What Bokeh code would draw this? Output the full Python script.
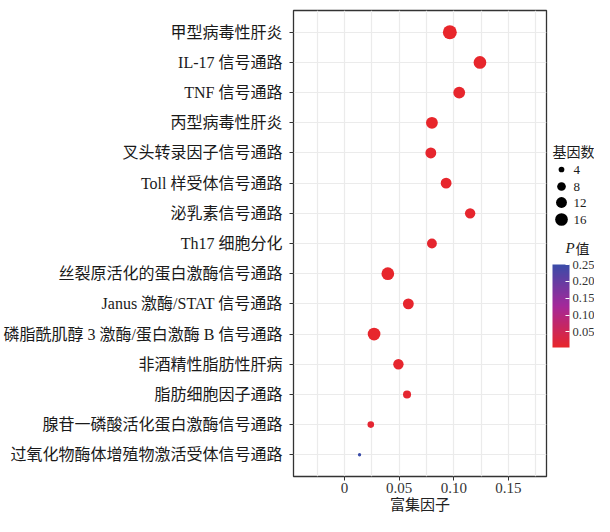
import numpy as np
from bokeh.plotting import figure
from bokeh.layouts import row
from bokeh.models import (ColumnDataSource, FactorRange, Range1d, FixedTicker,
                          LinearColorMapper, ColorBar, NumeralTickFormatter)
from bokeh.core.properties import value
from bokeh.embed import file_html
from bokeh.resources import INLINE

# ---------------- data ----------------
pathways = ["甲型病毒性肝炎", "IL-17 信号通路", "TNF 信号通路", "丙型病毒性肝炎",
            "叉头转录因子信号通路", "Toll 样受体信号通路", "泌乳素信号通路", "Th17 细胞分化",
            "丝裂原活化的蛋白激酶信号通路", "Janus 激酶/STAT 信号通路",
            "磷脂酰肌醇 3 激酶/蛋白激酶 B 信号通路", "非酒精性脂肪性肝病",
            "脂肪细胞因子通路", "腺苷一磷酸活化蛋白激酶信号通路",
            "过氧化物酶体增殖物激活受体信号通路"]
rich_factor = [0.0964, 0.124, 0.105, 0.080, 0.079, 0.093, 0.115, 0.080,
               0.0396, 0.0584, 0.027, 0.0493, 0.0572, 0.024, 0.0137]
gene_count = [19, 16, 14, 14, 12, 12, 11, 10, 16, 12, 16, 11, 7, 5, 2]
p_value = [0.004, 0.005, 0.006, 0.004, 0.007, 0.006, 0.008, 0.009,
           0.005, 0.007, 0.006, 0.008, 0.010, 0.012, 0.25]
x_ticks = [0, 0.05, 0.10, 0.15]
x_tick_labels = ["0", "0.05", "0.10", "0.15"]
size_breaks = [4, 8, 12, 16]
p_ticks = [0.05, 0.10, 0.15, 0.20, 0.25]


def marker_size(c):
    return np.sqrt(10.73 * np.asarray(c, dtype=float) - 10.4)


def make_palette(stops, n=256):
    cols = []
    stops = [tuple(int(s[i:i + 2], 16) for i in (1, 3, 5)) for s in stops]
    segs = len(stops) - 1
    for k in range(n):
        t = k / (n - 1) * segs
        i = min(int(t), segs - 1)
        f = t - i
        a, b = stops[i], stops[i + 1]
        cols.append("#%02x%02x%02x" % tuple(int(round(a[j] + (b[j] - a[j]) * f)) for j in range(3)))
    return cols


palette = make_palette(["#E8262B", "#A4289A", "#3A4CA8"])
mapper = LinearColorMapper(palette=palette, low=min(p_value), high=max(p_value))

SERIF = "'Liberation Serif', 'Noto Sans CJK SC'"
CJK = "'Noto Sans CJK SC'"

src = ColumnDataSource(dict(y=pathways, x=rich_factor, n=gene_count, p=p_value,
                            s=marker_size(gene_count)))

W_MAIN, W_LEG, H = 548, 46, 516
B_LEFT, B_RIGHT, B_TOP, B_BOT = 292, 2, 10, 40
FRAME_W = W_MAIN - B_LEFT - B_RIGHT
X_START = -0.0468
X_END = X_START + FRAME_W / 1096.0

yr = FactorRange(factors=list(reversed(pathways)), range_padding=0.22,
                 range_padding_units="absolute")
p = figure(width=W_MAIN, height=H, y_range=yr, x_range=Range1d(X_START, X_END),
           output_backend="svg", toolbar_location=None,
           min_border_left=B_LEFT, min_border_right=B_RIGHT, min_border_top=B_TOP,
           min_border_bottom=B_BOT)
p.background_fill_color = "white"
p.border_fill_color = "white"
p.outline_line_color = "#333333"
p.outline_line_width = 1.3

p.scatter("x", "y", source=src, size="s", line_color=None,
          fill_color={"field": "p", "transform": mapper})

p.xaxis.ticker = FixedTicker(ticks=x_ticks, minor_ticks=[-0.025, 0.025, 0.075, 0.125, 0.175])
p.xaxis.major_label_overrides = {t: l for t, l in zip(x_ticks, x_tick_labels)}
p.xaxis.axis_label = "富集因子"
p.xaxis.axis_label_text_font = SERIF
p.xaxis.axis_label_text_font_size = "15px"
p.xaxis.axis_label_text_font_style = "normal"
p.xaxis.axis_label_text_color = "#222222"
p.xaxis.axis_label_standoff = 1
p.xaxis.major_label_text_font = SERIF
p.xaxis.major_label_text_font_size = "15px"
p.xaxis.major_label_text_color = "#333333"
p.xaxis.major_label_standoff = 2

p.yaxis.major_label_text_font = SERIF
p.yaxis.major_label_text_font_size = "16px"
p.yaxis.major_label_text_color = "#1a1a1a"
p.yaxis.major_label_standoff = 7

for ax in (p.xaxis, p.yaxis):
    ax.axis_line_color = None
    ax.major_tick_line_color = "#333333"
    ax.major_tick_out = 4
    ax.major_tick_in = 0
    ax.minor_tick_line_color = None

p.xgrid.grid_line_color = "#EBEBEB"
p.xgrid.minor_grid_line_color = "#EBEBEB"
p.xgrid.grid_line_width = 1.2
p.xgrid.minor_grid_line_width = 1.2
p.ygrid.grid_line_color = "#EBEBEB"
p.ygrid.grid_line_width = 1.2

# ---------------- legend panel (ranges in canvas pixels) ----------------
X0 = W_MAIN
FRAME_BOTTOM = H - B_BOT
q = figure(width=W_LEG, height=H, x_range=Range1d(X0, X0 + W_LEG),
           y_range=Range1d(FRAME_BOTTOM, B_TOP),
           output_backend="svg", toolbar_location=None,
           x_axis_location=None, y_axis_location=None,
           min_border_left=0, min_border_right=0,
           min_border_top=B_TOP, min_border_bottom=B_BOT)
q.grid.visible = False
q.outline_line_color = None
q.background_fill_color = "white"
q.border_fill_color = "white"

BAR_X = 552
leg_y = [169, 186, 202, 219]
q.text(x=[BAR_X], y=[150], text=["基因数"], text_font=value(CJK), text_font_size="14px",
       text_baseline="middle", text_align="left", text_color="#1a1a1a")
q.scatter(x=[BAR_X + 9] * len(size_breaks), y=leg_y, size=marker_size(size_breaks),
          fill_color="black", line_color=None)
q.text(x=[BAR_X + 21] * len(size_breaks), y=leg_y, text=[str(b) for b in size_breaks],
       text_font=value(SERIF), text_font_size="13px", text_baseline="middle",
       text_align="left", text_color="#1a1a1a")
q.text(x=[BAR_X + 13], y=[247], text=["P"], text_font=value(SERIF), text_font_style="italic",
       text_font_size="15px", text_baseline="middle", text_align="left", text_color="#1a1a1a")
q.text(x=[BAR_X + 23], y=[247], text=["值"], text_font=value(CJK), text_font_size="14px",
       text_baseline="middle", text_align="left", text_color="#1a1a1a")

cb = ColorBar(color_mapper=mapper, ticker=FixedTicker(ticks=p_ticks),
              formatter=NumeralTickFormatter(format="0.00"),
              width=17, height=83, padding=0, location=(BAR_X - X0, FRAME_BOTTOM - 347),
              bar_line_color=None, border_line_color=None,
              background_fill_alpha=0,
              major_tick_line_color="white", major_tick_in=4, major_tick_out=0,
              minor_tick_line_color=None,
              major_label_text_font=SERIF, major_label_text_font_size="12.5px",
              major_label_text_color="#333333", label_standoff=3)
q.add_layout(cb, "center")

layout = row(p, q)
open("out.html", "w").write(file_html(layout, INLINE))
